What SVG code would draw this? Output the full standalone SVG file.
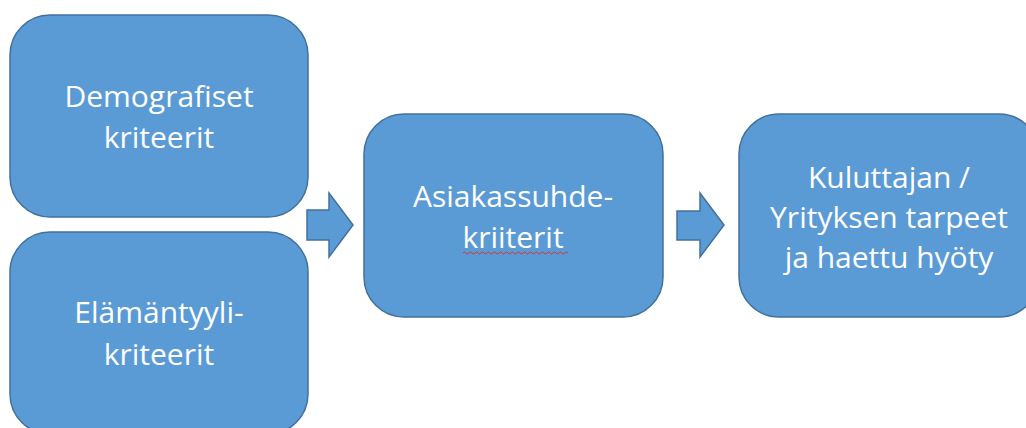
<svg xmlns="http://www.w3.org/2000/svg" width="1026" height="428" viewBox="0 0 1026 428">
  <style>
    .box { fill: #5b9bd5; stroke: #41719c; stroke-width: 1.5; }
    .arrow { fill: #5b9bd5; stroke: #41719c; stroke-width: 1.5; stroke-linejoin: miter; }
    .label { fill: #ffffff; font-family: "Open Sans", "Liberation Sans", sans-serif; font-size: 30px; text-anchor: middle; }
    .spell { fill: none; stroke: #e03030; stroke-width: 1; }
  </style>
  <rect width="1026" height="428" fill="#ffffff"/>

  <g id="connectors">
    <path class="arrow" d="M307,210 H329 V193 L353,225 L329,257 V240 H307 Z"/>
    <path class="arrow" d="M677,211 H700 V193 L724,225 L700,257 V240 H677 Z"/>
  </g>

  <g id="demografiset">
    <rect class="box" x="10" y="15" width="298" height="202" rx="40" ry="40"/>
    <text class="label" x="159" y="107">Demografiset</text>
    <text class="label" x="159" y="148">kriteerit</text>
  </g>

  <g id="elamantyyli">
    <rect class="box" x="10" y="232" width="298" height="202" rx="40" ry="40"/>
    <text class="label" x="159" y="323">Elämäntyyli-</text>
    <text class="label" x="159" y="365">kriteerit</text>
  </g>

  <g id="asiakassuhde">
    <rect class="box" x="364" y="114" width="299" height="203" rx="40" ry="40"/>
    <text class="label" x="513" y="207">Asiakassuhde-</text>
    <text class="label" x="513" y="248">kriiterit</text>
    <path class="spell" d="M463,253 q1.5,-2 3,0 t3,0 t3,0 t3,0 t3,0 t3,0 t3,0 t3,0 t3,0 t3,0 t3,0 t3,0 t3,0 t3,0 t3,0 t3,0 t3,0 t3,0 t3,0 t3,0 t3,0 t3,0 t3,0 t3,0 t3,0 t3,0 t3,0 t3,0 t3,0 t3,0 t3,0 t3,0 t3,0 t3,0 t3,0"/>
  </g>

  <g id="tarpeet">
    <rect class="box" x="739" y="114" width="300" height="203" rx="40" ry="40"/>
    <text class="label" x="889" y="188">Kuluttajan /</text>
    <text class="label" x="889" y="228">Yrityksen tarpeet</text>
    <text class="label" x="889" y="268">ja haettu hyöty</text>
  </g>
</svg>
